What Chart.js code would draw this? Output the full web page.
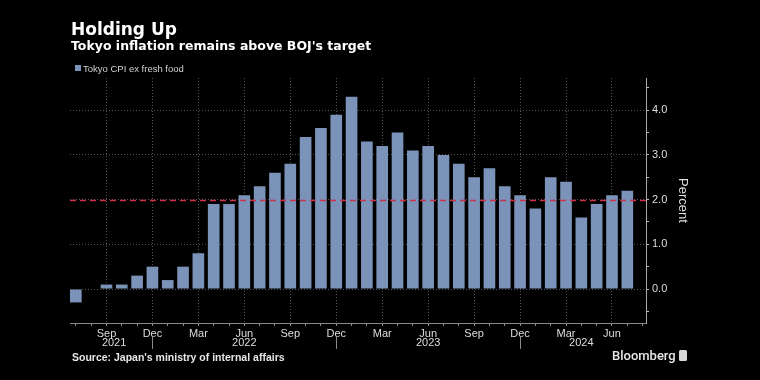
<!DOCTYPE html>
<html>
<head>
<meta charset="utf-8">
<title>Holding Up</title>
<script src="https://cdn.jsdelivr.net/npm/chart.js@4.4.1/dist/chart.umd.min.js"></script>
<style>
  html, body { margin: 0; padding: 0; background: #000; }
  #wrap { position: relative; width: 760px; height: 380px; background: #000; overflow: hidden; }
  #chart { position: absolute; left: 0; top: 0; }
  .txt { position: absolute; white-space: nowrap; color: #fff; }
  #title { left: 71px; top: 20.5px; font: bold 17px/17px "DejaVu Sans", sans-serif; }
  #subtitle { left: 71px; top: 40px; font: bold 12.5px/12.5px "DejaVu Sans", sans-serif; }
  #legend { left: 75px; top: 63.5px; font: 9.5px/9.5px "Liberation Sans", Arial, sans-serif; color: #d0d0d0; }
  #legend i { position: absolute; left: 0; top: 1.5px; width: 6px; height: 6px; background: #7b93b9; }
  #legend span { margin-left: 8px; }
  #source { left: 72px; top: 351.5px; font: bold 10.5px/10.5px "Liberation Sans", Arial, sans-serif; color: #e6e6e6; }
  #brand { left: 612px; top: 349px; font: 500 13px/13px Roboto, sans-serif; color: #e6e6e6; }
  #logo { position: absolute; left: 679px; top: 350px; width: 8px; height: 11px; border-radius: 1.5px; background: #d8d8d8; }
</style>
</head>
<body>
<div id="wrap">
  <canvas id="chart" width="760" height="380"></canvas>
  <div class="txt" id="title">Holding Up</div>
  <div class="txt" id="subtitle">Tokyo inflation remains above BOJ's target</div>
  <div class="txt" id="legend"><i></i><span>Tokyo CPI ex fresh food</span></div>
  <div class="txt" id="source">Source: Japan's ministry of internal affairs</div>
  <div class="txt" id="brand">Bloomberg</div>
  <div id="logo"></div>
</div>
<script>
// Monthly data, Jul 2021 - Jul 2024 (YoY %, Tokyo core CPI)
const months = [
    'Jul 2021', 'Aug 2021', 'Sep 2021', 'Oct 2021', 'Nov 2021', 'Dec 2021',
    'Jan 2022', 'Feb 2022', 'Mar 2022', 'Apr 2022', 'May 2022', 'Jun 2022',
    'Jul 2022', 'Aug 2022', 'Sep 2022', 'Oct 2022', 'Nov 2022', 'Dec 2022',
    'Jan 2023', 'Feb 2023', 'Mar 2023', 'Apr 2023', 'May 2023', 'Jun 2023',
    'Jul 2023', 'Aug 2023', 'Sep 2023', 'Oct 2023', 'Nov 2023', 'Dec 2023',
    'Jan 2024', 'Feb 2024', 'Mar 2024', 'Apr 2024', 'May 2024', 'Jun 2024',
    'Jul 2024'
];
const cpiExFreshFood = [
    -0.3, 0.0, 0.1, 0.1, 0.3, 0.5,
    0.2, 0.5, 0.8, 1.9, 1.9, 2.1,
    2.3, 2.6, 2.8, 3.4, 3.6, 3.9,
    4.3, 3.3, 3.2, 3.5, 3.1, 3.2,
    3.0, 2.8, 2.5, 2.7, 2.3, 2.1,
    1.8, 2.5, 2.4, 1.6, 1.9, 2.1,
    2.2
];
const labelMonths = ['Sep', 'Dec', 'Mar', 'Jun'];
const years = ['2021', '2022', '2023', '2024'];
const yTicks = [-0.5, 0, 0.5, 1, 1.5, 2, 2.5, 3, 3.5, 4, 4.5];
const bojTarget = 2.0;

const barColor = '#7b93b9';
const gridColor = 'rgba(255,255,255,0.32)';

function monthName(i) {
    return months[i] ? months[i].split(' ')[0] : '';
}

// Year separators under each December, year names centred between them
const yearAxisPlugin = {
    id: 'yearAxis',
    afterDraw(chart) {
        const ctx = chart.ctx;
        const x = chart.scales.x;
        const base = chart.chartArea.bottom;
        const decs = [];
        months.forEach((m, i) => { if (m.startsWith('Dec')) decs.push(i); });

        ctx.save();
        ctx.strokeStyle = '#8a8a8a';
        ctx.lineWidth = 1;
        decs.forEach(i => {
            const px = Math.round(x.getPixelForValue(i)) + 0.5;
            ctx.beginPath();
            ctx.moveTo(px, base + 14);
            ctx.lineTo(px, base + 26);
            ctx.stroke();
        });

        ctx.fillStyle = '#dddddd';
        ctx.font = '11px "Liberation Sans", Arial, sans-serif';
        ctx.textAlign = 'center';
        ctx.textBaseline = 'middle';
        years.forEach(y => {
            const first = months.findIndex(m => m.endsWith(y));
            const dec = months.indexOf('Dec ' + y);
            const start = decs.filter(d => d < first).pop();
            const a = start === undefined ? 0 : start;
            const b = dec === -1 ? months.length : dec;
            const cx = (x.getPixelForValue(a) + x.getPixelForValue(b)) / 2;
            ctx.fillText(y, cx, base + 20);
        });
        ctx.restore();
    }
};

// BOJ 2% target line
const targetLinePlugin = {
    id: 'targetLine',
    afterDatasetsDraw(chart) {
        const ctx = chart.ctx;
        const area = chart.chartArea;
        const py = Math.round(chart.scales.y.getPixelForValue(bojTarget)) + 0.5;
        ctx.save();
        ctx.strokeStyle = '#cc3349';
        ctx.lineWidth = 1.3;
        ctx.setLineDash([6, 4]);
        ctx.beginPath();
        ctx.moveTo(area.left, py);
        ctx.lineTo(area.right, py);
        ctx.stroke();
        ctx.restore();
    }
};

new Chart(document.getElementById('chart'), {
    type: 'bar',
    data: {
        datasets: [{
            label: 'Tokyo CPI ex fresh food',
            data: cpiExFreshFood.map((v, i) => ({ x: i, y: v })),
            backgroundColor: barColor,
            borderWidth: 0,
            barPercentage: 0.76,
            categoryPercentage: 1
        }]
    },
    options: {
        responsive: false,
        animation: false,
        devicePixelRatio: 1,
        layout: { padding: { left: 70, top: 78, right: 68, bottom: 27 } },
        plugins: {
            legend: { display: false },
            title: { display: false },
            tooltip: { enabled: false }
        },
        scales: {
            x: {
                type: 'linear',
                offset: false,
                min: -0.38,
                max: 37.22,
                afterFit: scale => { scale.height = 30; },
                afterBuildTicks: scale => {
                    scale.ticks = [];
                    for (let i = 0; i <= months.length; i++) scale.ticks.push({ value: i });
                },
                ticks: {
                    autoSkip: false,
                    maxRotation: 0,
                    padding: 1,
                    color: '#dddddd',
                    font: { family: '"Liberation Sans", Arial, sans-serif', size: 11 },
                    callback: value => labelMonths.includes(monthName(value)) ? monthName(value) : ''
                },
                grid: {
                    offset: false,
                    drawTicks: true,
                    tickLength: 3,
                    tickColor: '#8a8a8a',
                    color: ctx => ctx.tick && labelMonths.includes(monthName(ctx.tick.value)) ? gridColor : 'transparent'
                },
                border: { display: true, color: '#8a8a8a', width: 1, dash: [1, 2] }
            },
            y: {
                position: 'right',
                min: -0.76,
                max: 4.72,
                afterFit: scale => { scale.width = 46; },
                afterBuildTicks: scale => {
                    scale.ticks = yTicks.map(v => ({ value: v }));
                },
                ticks: {
                    autoSkip: false,
                    padding: 3,
                    color: '#dddddd',
                    font: { family: '"Liberation Sans", Arial, sans-serif', size: 11 },
                    callback: value => Number.isInteger(value) ? value.toFixed(1) : ''
                },
                grid: {
                    drawTicks: true,
                    tickLength: 3,
                    tickColor: '#bbbbbb',
                    color: ctx => ctx.tick && Number.isInteger(ctx.tick.value) ? gridColor : 'transparent'
                },
                border: { display: true, color: '#aaaaaa', width: 1, dash: [1, 2] },
                title: {
                    display: true,
                    text: 'Percent',
                    color: '#dddddd',
                    padding: { top: 2, bottom: 0 },
                    font: { family: '"Liberation Sans", Arial, sans-serif', size: 13 }
                }
            }
        }
    },
    plugins: [yearAxisPlugin, targetLinePlugin]
});
</script>
</body>
</html>
